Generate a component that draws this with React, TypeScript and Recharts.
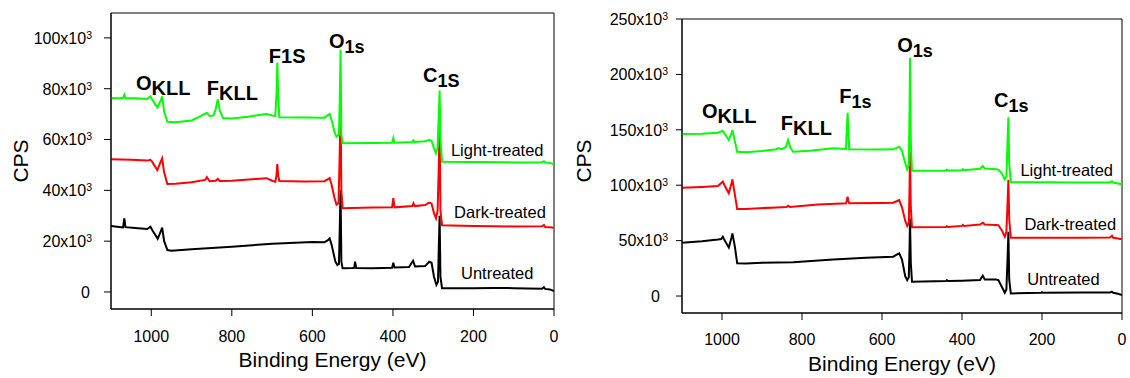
import React from 'react';
import { LineChart, Line, XAxis, YAxis, ReferenceArea, ReferenceDot } from 'recharts';

type Pt = [number, number];

const energyTicks = [0, 200, 400, 600, 800, 1000];
const leftCpsTicks = [0, 20000, 40000, 60000, 80000, 100000];
const rightCpsTicks = [0, 50000, 100000, 150000, 200000, 250000];

// ---------- Left panel spectra (Binding energy eV, CPS) ----------
const leftUntreated: Pt[] = [
  [1100, 26000], [1080, 25600], [1070, 25400], [1067, 29000], [1064, 25500], [1040, 25200],
  [1010, 24800], [1002, 25700], [998, 24500], [984, 20900], [976, 24000], [973, 25300],
  [968, 20000], [960, 16500], [950, 16200], [900, 16800], [800, 17800], [700, 19000],
  [600, 19700], [570, 19600], [562, 20300], [557, 21100], [552, 18500], [543, 12000],
  [538, 10600], [534, 11000], [532, 25000], [530, 40000], [528, 12000], [525, 9300],
  [500, 9400], [496, 9500], [494, 11900], [491, 9400], [450, 9300], [402, 9500],
  [399, 11500], [396, 9600], [360, 9800], [350, 12300], [345, 10000], [320, 10200],
  [310, 11900], [304, 11500], [298, 6000], [292, 2800], [288, 4000], [286, 18000],
  [284, 30000], [282, 6000], [278, 1500], [200, 1500], [150, 1600], [100, 1500],
  [30, 1300], [25, 1900], [22, 1200], [10, 1000], [0, 400],
];

const leftDark: Pt[] = [
  [1100, 52200], [1050, 52000], [1010, 51700], [1002, 52000], [998, 51300], [985, 48000],
  [976, 51500], [973, 52600], [968, 47000], [960, 42500], [940, 42600], [900, 43200],
  [866, 44100], [862, 45200], [855, 43600], [840, 43800], [835, 44500], [830, 43700],
  [800, 43800], [740, 44500], [714, 44800], [700, 43800], [692, 43400], [689, 46000],
  [687, 50300], [685, 46000], [682, 43700], [620, 43500], [570, 43600], [562, 44300],
  [557, 44800], [552, 42000], [545, 37000], [540, 34300], [535, 35000], [532, 55000],
  [530, 75000], [528, 40000], [525, 33000], [450, 33200], [402, 33300], [399, 36900],
  [396, 33300], [352, 33800], [349, 34900], [346, 33800], [320, 34200], [310, 35200],
  [304, 34800], [298, 31000], [293, 29000], [289, 32000], [286, 50000], [284, 66000],
  [282, 32000], [278, 26300], [200, 26000], [100, 25800], [30, 25900], [25, 26300],
  [22, 25600], [10, 25500], [0, 25300],
];

const leftLight: Pt[] = [
  [1100, 76300], [1080, 76200], [1070, 76400], [1067, 77600], [1064, 76200], [1040, 76200],
  [1010, 76000], [1002, 77000], [998, 75800], [985, 72600], [976, 75500], [973, 77000],
  [968, 71000], [960, 67000], [940, 66800], [900, 67500], [880, 69000], [866, 70200],
  [862, 70500], [855, 69300], [845, 69500], [840, 72000], [835, 75800], [830, 71500],
  [822, 68500], [800, 68300], [760, 69000], [714, 70000], [700, 69500], [692, 69300],
  [689, 78000], [687, 90300], [685, 78000], [682, 68800], [620, 68700], [570, 68600],
  [562, 69500], [557, 70000], [552, 67500], [545, 63000], [540, 61100], [534, 62000],
  [532, 75000], [530, 95300], [528, 62000], [525, 58500], [450, 58600], [402, 58700],
  [399, 60500], [396, 58700], [352, 59000], [349, 59700], [346, 59000], [320, 59300],
  [310, 59800], [304, 59500], [298, 56500], [293, 54600], [289, 57000], [286, 70000],
  [284, 79300], [282, 60000], [278, 51300], [200, 51200], [100, 51000], [30, 51100],
  [25, 51500], [22, 51000], [10, 50800], [0, 50300],
];

// ---------- Right panel spectra ----------
const rightUntreated: Pt[] = [
  [1100, 48100], [1050, 49500], [1010, 51000], [1002, 51500], [998, 53500], [993, 50000],
  [983, 43900], [976, 53000], [974, 56600], [968, 45000], [962, 29500], [940, 29400],
  [900, 30000], [822, 30400], [722, 33000], [640, 34500], [572, 35500], [562, 37500],
  [557, 38500], [550, 33000], [542, 18000], [537, 14400], [533, 17000], [531, 45000],
  [530, 70000], [528, 30000], [525, 12900], [440, 13500], [438, 14300], [435, 13500],
  [400, 13800], [355, 14500], [348, 18300], [343, 15000], [315, 15000], [309, 14400],
  [300, 8000], [293, 3000], [289, 6000], [286, 35000], [284, 58000], [282, 15000],
  [278, 2400], [202, 3000], [200, 3500], [198, 3000], [100, 3200], [30, 3300],
  [25, 3900], [22, 3000], [10, 2000], [0, 900],
];

const rightDark: Pt[] = [
  [1100, 97700], [1050, 98500], [1010, 99300], [998, 103200], [993, 99500], [983, 92700],
  [976, 102000], [974, 105300], [968, 92000], [962, 78500], [940, 78600], [864, 80000],
  [838, 80300], [835, 81500], [830, 80400], [760, 82500], [700, 83500], [690, 83700],
  [688, 86000], [686, 89600], [684, 86000], [682, 83700], [600, 84000], [572, 84200],
  [562, 85800], [557, 86600], [550, 80000], [542, 68000], [537, 63200], [533, 66000],
  [531, 100000], [530, 130000], [528, 80000], [525, 62000], [440, 62300], [438, 63000],
  [435, 62300], [400, 63300], [398, 64200], [395, 63300], [355, 64500], [348, 66200],
  [343, 64500], [315, 64200], [309, 64000], [300, 59000], [293, 53500], [289, 58000],
  [286, 85000], [284, 105000], [282, 70000], [278, 52600], [200, 52700], [100, 52600],
  [30, 52800], [25, 54400], [22, 52500], [10, 52000], [0, 51200],
];

const rightLight: Pt[] = [
  [1100, 146200], [1050, 146500], [1010, 147400], [998, 149200], [993, 146500], [983, 140800],
  [976, 147000], [974, 149800], [968, 140000], [962, 130200], [940, 129800], [900, 130800],
  [864, 132400], [860, 133500], [850, 132500], [840, 134500], [835, 140800], [829, 134000],
  [822, 130200], [780, 131200], [722, 133300], [700, 133000], [690, 132800], [688, 150000],
  [686, 165400], [684, 150000], [682, 132400], [600, 132300], [572, 132400], [562, 134000],
  [557, 134800], [550, 131000], [542, 120000], [537, 114300], [533, 118000], [531, 170000],
  [530, 215000], [528, 140000], [525, 113100], [440, 113100], [438, 114000], [435, 113200],
  [400, 113600], [398, 114500], [395, 113600], [355, 114800], [348, 117300], [343, 115000],
  [315, 114500], [309, 114000], [300, 110500], [293, 105300], [289, 108000], [286, 140000],
  [284, 161300], [282, 120000], [278, 102600], [200, 102600], [100, 102500], [30, 102500],
  [25, 103500], [22, 102300], [10, 101500], [0, 100800],
];

// ---------- Annotations (anchor in data coordinates) ----------
type PeakLabel = { e: number; c: number; main: string; sub: string };
type SeriesLabel = { e: number; c: number; text: string };

const leftPeakLabels: PeakLabel[] = [
  { e: 1038, c: 79500, main: 'O', sub: 'KLL' },
  { e: 862, c: 77600, main: 'F', sub: 'KLL' },
  { e: 708, c: 90200, main: 'F1S', sub: '' },
  { e: 559, c: 96100, main: 'O', sub: '1s' },
  { e: 325, c: 82700, main: 'C', sub: '1S' },
];
const leftSeriesLabels: SeriesLabel[] = [
  { e: 256, c: 53500, text: 'Light-treated' },
  { e: 248, c: 29100, text: 'Dark-treated' },
  { e: 231, c: 5100, text: 'Untreated' },
];

const rightPeakLabels: PeakLabel[] = [
  { e: 1050, c: 160600, main: 'O', sub: 'KLL' },
  { e: 853, c: 149800, main: 'F', sub: 'KLL' },
  { e: 707, c: 174200, main: 'F', sub: '1s' },
  { e: 562, c: 220200, main: 'O', sub: '1s' },
  { e: 320, c: 170600, main: 'C', sub: '1s' },
];
const rightSeriesLabels: SeriesLabel[] = [
  { e: 254, c: 108300, text: 'Light-treated' },
  { e: 244, c: 59600, text: 'Dark-treated' },
  { e: 237, c: 9900, text: 'Untreated' },
];

const FONT = '"Liberation Sans", Arial, Helvetica, sans-serif';
const GREEN = '#00ff00';
const RED = '#ff0000';
const BLACK = '#000000';

const toRows = (pts: Pt[]) => pts.map(([e, c]) => ({ e, c }));

type PanelProps = {
  left: number;
  margin: { top: number; right: number; bottom: number; left: number };
  yDomain: [number, number];
  yTicks: number[];
  untreated: Pt[];
  dark: Pt[];
  light: Pt[];
  peaks: PeakLabel[];
  series: SeriesLabel[];
  yTickSize: number;
  yTickMargin: number;
  zeroShift: number;
  xTickMargin: number;
  cpsDx: number;
  cpsDy: number;
  xTitleDy: number;
};

const makeCpsTick = (zeroShift: number) => (props: any) => {
  const { x, y, payload } = props;
  const v = payload.value as number;
  if (v === 0) {
    return (
      <text x={x - zeroShift} y={y + 5.8} textAnchor="end" fontSize={16} fontFamily={FONT} fill="#000">
        0
      </text>
    );
  }
  return (
    <text x={x} y={y + 5.8} textAnchor="end" fontSize={16} fontFamily={FONT} fill="#000">
      {`${v / 1000}x10`}
      <tspan dy={-5} fontSize={10.5}>3</tspan>
    </text>
  );
};

const EnergyTick = (props: any) => {
  const { x, y, payload } = props;
  return (
    <text x={x} y={y + 11.6} textAnchor="middle" fontSize={16} fontFamily={FONT} fill="#000">
      {payload.value}
    </text>
  );
};

const peakShape = (lab: PeakLabel) => (props: any) => {
  const { cx, cy } = props;
  return (
    <text x={cx} y={cy} fontSize={20} fontWeight="bold" fontFamily={FONT} fill="#000">
      <tspan>{lab.main}</tspan>
      {lab.sub ? (
        <tspan dy={5} fontSize={lab.sub === 'KLL' ? 20 : 18}>{lab.sub}</tspan>
      ) : null}
    </text>
  );
};

const seriesShape = (lab: SeriesLabel) => (props: any) => {
  const { cx, cy } = props;
  return (
    <text x={cx} y={cy} fontSize={16.5} fontFamily={FONT} fill="#000">
      {lab.text}
    </text>
  );
};

const Panel = (p: PanelProps) => {
  const yTick = makeCpsTick(p.zeroShift);
  return (
    <div style={{ position: 'absolute', left: p.left, top: 0, width: 565, height: 378 }}>
      <LineChart width={565} height={378} margin={p.margin}>
        <XAxis
          dataKey="e"
          type="number"
          domain={[0, 1100]}
          reversed
          ticks={energyTicks}
          allowDataOverflow
          height={30}
          tickSize={7}
          tickMargin={p.xTickMargin}
          tick={EnergyTick}
          axisLine={{ stroke: '#000', strokeWidth: 1 }}
          tickLine={{ stroke: '#000', strokeWidth: 1 }}
          label={{
            content: (lp: any) => {
              const vb = lp.viewBox || {};
              return (
                <text
                  x={vb.x + vb.width / 2}
                  y={vb.y + p.xTitleDy}
                  textAnchor="middle"
                  fontSize={21}
                  fontFamily={FONT}
                  fill="#000"
                >
                  Binding Energy (eV)
                </text>
              );
            },
          }}
        />
        <YAxis
          type="number"
          domain={p.yDomain}
          ticks={p.yTicks}
          allowDataOverflow
          width={80}
          tickSize={p.yTickSize}
          tickMargin={p.yTickMargin}
          tick={yTick}
          axisLine={{ stroke: '#000', strokeWidth: 1 }}
          tickLine={{ stroke: '#000', strokeWidth: 1 }}
          label={{
            content: (lp: any) => {
              const vb = lp.viewBox || {};
              const cx = vb.x + p.cpsDx;
              const cy = vb.y + vb.height / 2 + p.cpsDy;
              return (
                <text
                  x={cx}
                  y={cy}
                  transform={`rotate(-90 ${cx} ${cy})`}
                  textAnchor="middle"
                  dominantBaseline="central"
                  fontSize={21}
                  fontFamily={FONT}
                  fill="#000"
                >
                  CPS
                </text>
              );
            },
          }}
        />
        <Line data={toRows(p.untreated)} dataKey="c" type="linear" stroke={BLACK} strokeWidth={2} dot={false} isAnimationActive={false} />
        <Line data={toRows(p.dark)} dataKey="c" type="linear" stroke={RED} strokeWidth={2} dot={false} isAnimationActive={false} />
        <Line data={toRows(p.light)} dataKey="c" type="linear" stroke={GREEN} strokeWidth={2} dot={false} isAnimationActive={false} />
        <ReferenceArea
          x1={0}
          x2={1100}
          y1={p.yDomain[0]}
          y2={p.yDomain[1]}
          fill="none"
          fillOpacity={0}
          stroke="#000"
          strokeWidth={1}
          ifOverflow="visible"
        />
        {p.peaks.map((lab, i) => (
          <ReferenceDot key={`pk${i}`} x={lab.e} y={lab.c} r={0} ifOverflow="visible" shape={peakShape(lab)} />
        ))}
        {p.series.map((lab, i) => (
          <ReferenceDot key={`sl${i}`} x={lab.e} y={lab.c} r={0} ifOverflow="visible" shape={seriesShape(lab)} />
        ))}
      </LineChart>
    </div>
  );
};

export default function App() {
  return (
    <div style={{ position: 'absolute', left: 0, top: 0, width: 1130, height: 378, background: '#fff' }}>
      <Panel
        left={0}
        margin={{ top: 13, right: 11, bottom: 39, left: 31 }}
        yDomain={[-6700, 109800]}
        yTicks={leftCpsTicks}
        untreated={leftUntreated}
        dark={leftDark}
        light={leftLight}
        peaks={leftPeakLabels}
        series={leftSeriesLabels}
        yTickSize={7}
        yTickMargin={12}
        zeroShift={2}
        xTickMargin={14}
        cpsDx={-11}
        cpsDy={0}
        xTitleDy={58}
      />
      <Panel
        left={565}
        margin={{ top: 19, right: 8, bottom: 35, left: 37 }}
        yDomain={[-15300, 250000]}
        yTicks={rightCpsTicks}
        untreated={rightUntreated}
        dark={rightDark}
        light={rightLight}
        peaks={rightPeakLabels}
        series={rightSeriesLabels}
        yTickSize={6}
        yTickMargin={8}
        zeroShift={8}
        xTickMargin={13}
        cpsDx={-18.5}
        cpsDy={-5}
        xTitleDy={57.5}
      />
    </div>
  );
}
